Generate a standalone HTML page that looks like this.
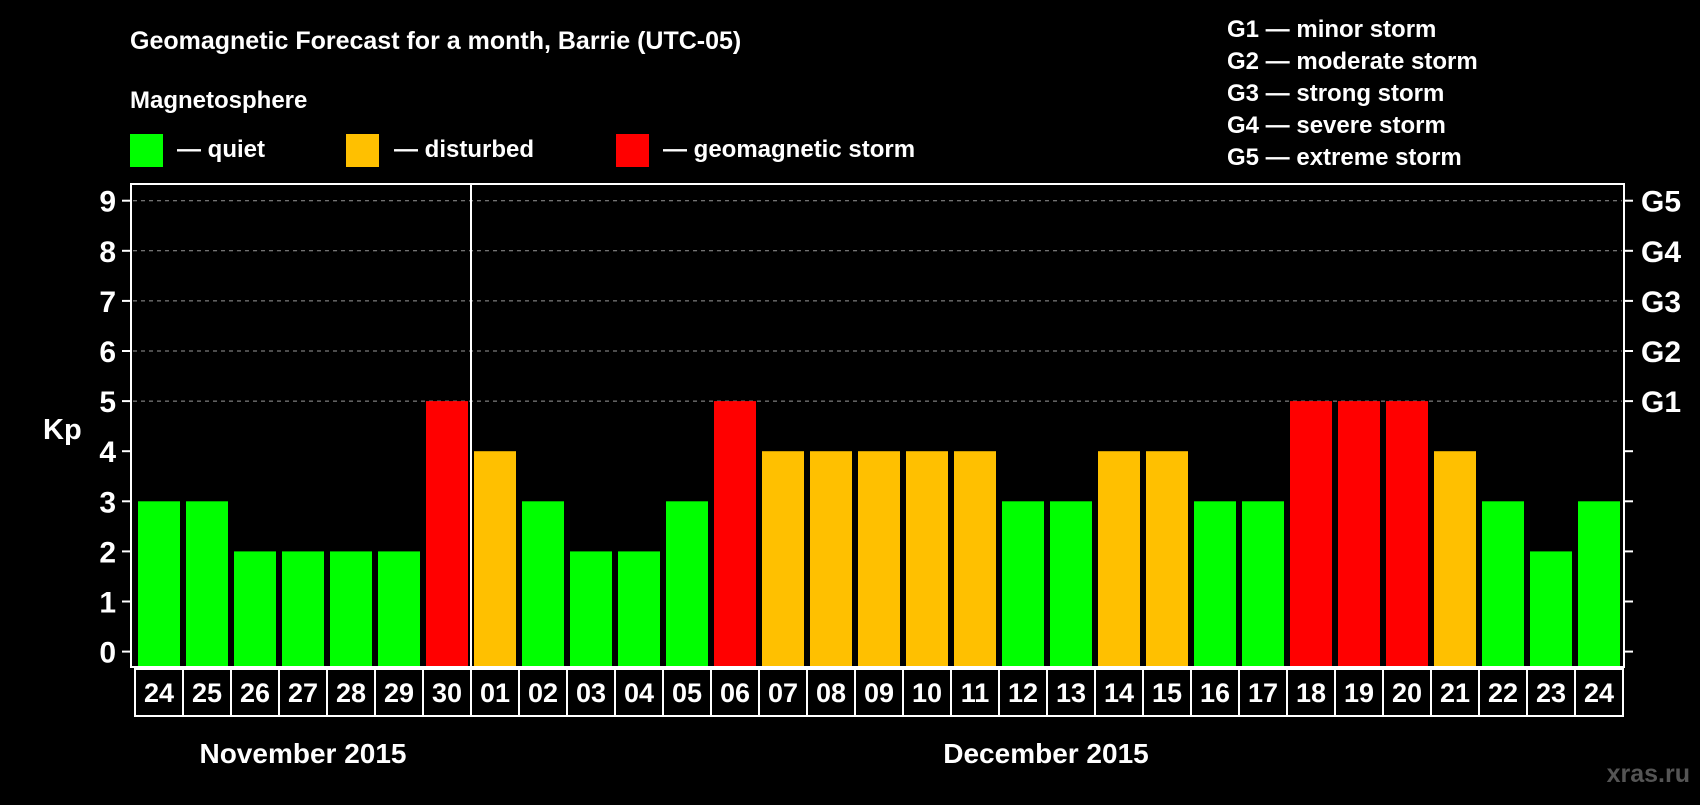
<!DOCTYPE html>
<html><head><meta charset="utf-8"><style>
body{margin:0;background:#000;width:1700px;height:800px;overflow:hidden}
svg, svg text{font-family:"Liberation Sans", Arial, sans-serif;font-weight:bold}
</style></head><body>
<svg width="1700" height="800" xmlns="http://www.w3.org/2000/svg">
<rect width="1700" height="800" fill="#000"/>
<text x="130" y="49" font-size="25" fill="#fff">Geomagnetic Forecast for a month, Barrie (UTC-05)</text>
<text x="130" y="108" font-size="24" fill="#fff">Magnetosphere</text>
<rect x="130" y="134" width="33" height="33" fill="#00ff00"/>
<text x="177" y="157" font-size="24" fill="#fff">— quiet</text>
<rect x="346" y="134" width="33" height="33" fill="#ffc000"/>
<text x="394" y="157" font-size="24" fill="#fff">— disturbed</text>
<rect x="616" y="134" width="33" height="33" fill="#ff0000"/>
<text x="663" y="157" font-size="24" fill="#fff">— geomagnetic storm</text>
<g font-size="24" fill="#fff">
<text x="1227" y="37">G1 — minor storm</text>
<text x="1227" y="69">G2 — moderate storm</text>
<text x="1227" y="101">G3 — strong storm</text>
<text x="1227" y="133">G4 — severe storm</text>
<text x="1227" y="165">G5 — extreme storm</text>
</g>
<text x="43" y="439" font-size="29" fill="#fff">Kp</text>
<g id="grid"></g>
<g id="bars"></g>
<g id="days"></g>
<rect x="131" y="184" width="1493" height="483" fill="none" stroke="#fff" stroke-width="2"/>
<line x1="471" y1="184" x2="471" y2="667" stroke="#fff" stroke-width="2"/>
<text x="303" y="763" font-size="28" fill="#fff" text-anchor="middle">November 2015</text>
<text x="1046" y="763" font-size="28" fill="#fff" text-anchor="middle">December 2015</text>
<text x="1690" y="782" font-size="25" fill="#555" text-anchor="end">xras.ru</text>
</svg>
<script>
const days=["24","25","26","27","28","29","30","01","02","03","04","05","06","07","08","09","10","11","12","13","14","15","16","17","18","19","20","21","22","23","24"];
const kp=[3,3,2,2,2,2,5,4,3,2,2,3,5,4,4,4,4,4,3,3,4,4,3,3,5,5,5,4,3,2,3];
const yTicks=["0","1","2","3","4","5","6","7","8","9"];
const gLabels=["G1","G2","G3","G4","G5"];
const NS="http://www.w3.org/2000/svg";
function y(v){return 651.6-v*50.1;}
function x(i){return 138+i*48;}
function color(v){return v>=5?"#ff0000":(v>=4?"#ffc000":"#00ff00");}
function mk(t,a,p){const e=document.createElementNS(NS,t);for(const k in a)e.setAttribute(k,a[k]);p.appendChild(e);return e;}
const grid=document.getElementById("grid");
yTicks.forEach((t,i)=>{
  const v=+t;
  if(v>=5){const l=mk("line",{x1:133,x2:1622,y1:y(v),y2:y(v),stroke:"#999","stroke-dasharray":"4,4","stroke-width":1},grid);
  
  }
  const tk=mk("line",{x1:122,x2:131,y1:y(v),y2:y(v),stroke:"#fff","stroke-width":2},grid);
  
  
  const tr=mk("line",{x1:1624,x2:1633,y1:y(v),y2:y(v),stroke:"#fff","stroke-width":2},grid);
  
  
  const tx=mk("text",{x:116,y:y(v)+11,"font-size":30,fill:"#fff","text-anchor":"end"},grid);
  tx.textContent=t;
  
  
});
gLabels.forEach((g,i)=>{
  const tx=mk("text",{x:1641,y:y(5+i)+11,"font-size":30,fill:"#fff"},grid);
  tx.textContent=g;
  
  
});
const bars=document.getElementById("bars"),dg=document.getElementById("days");
kp.forEach((v,i)=>{
  const r=mk("rect",{x:x(i),y:y(v),width:42,height:667-y(v),fill:color(v)},bars);
  
  
  const b=mk("rect",{x:135+i*48,y:669,width:48,height:47,fill:"#000",stroke:"#fff","stroke-width":2},dg);
  
  
  const t=mk("text",{x:135+i*48+24,y:702,"font-size":27,fill:"#fff","text-anchor":"middle"},dg);
  t.textContent=days[i];
  
  
});
</script>
</body></html>
